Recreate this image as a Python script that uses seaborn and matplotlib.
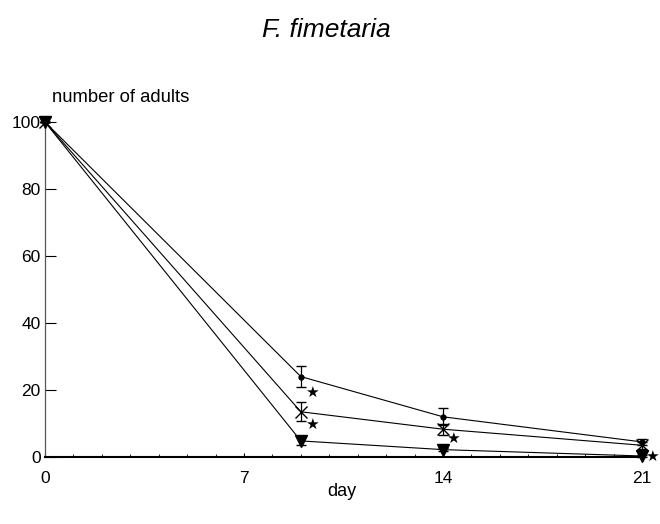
import matplotlib
matplotlib.use("Agg")
import matplotlib.pyplot as plt
import seaborn as sns
import pandas as pd
import numpy as np
from matplotlib.ticker import MultipleLocator

# ---- data ----
days = [0, 9, 14, 21]
series_names = ["dot", "cross", "triangle"]
dot_vals = [100, 24, 12, 4.5]
dot_err = [0, 3.2, 2.5, 0.8]
cross_vals = [100, 13.5, 8.3, 3.5]
cross_err = [0, 2.8, 1.6, 1.0]
tri_vals = [100, 4.8, 2.2, 0.3]
tri_err = [0, 1.2, 0.5, 0.4]
star_days = [9.4, 9.37, 14.35, 21.33]
star_vals = [19.2, 9.6, 5.5, 0.2]
x_ticks = [0, 7, 14, 21]
y_ticks = [0, 20, 40, 60, 80, 100]

sns.set_theme(style="white")
plt.rcParams['font.family'] = ['Liberation Sans', 'DejaVu Sans']
plt.rcParams['text.color'] = 'black'
plt.rcParams['xtick.color'] = 'black'
plt.rcParams['ytick.color'] = 'black'

df = pd.DataFrame({
    "day": days * 3,
    "adults": dot_vals + cross_vals + tri_vals,
    "series": [series_names[0]] * 4 + [series_names[1]] * 4 + [series_names[2]] * 4,
})

fig = plt.figure(figsize=(6.6, 5.24), dpi=100)
ax = fig.add_axes([45 / 660, 1 - 457 / 524, (642 - 45) / 660, (457 - 122) / 524])

sns.lineplot(data=df, x="day", y="adults", hue="series",
             palette=["black"] * 3, linewidth=0.8, legend=False, ax=ax)

marker_cfg = [("o", 3.5, dot_vals, dot_err), ("x", 8, cross_vals, cross_err), ("v", 8.5, tri_vals, tri_err)]
for mk, ms, vals, errs in marker_cfg:
    ax.errorbar(days, vals, yerr=errs, fmt=mk, color="black", ms=ms, mew=1.0,
                elinewidth=0.9, capsize=3.5, capthick=0.9, clip_on=False, zorder=5)

for sx, sy in zip(star_days, star_vals):
    ax.text(sx, sy, "★", fontsize=11, color="black", ha="center", va="center",
            family="DejaVu Sans", clip_on=False)

ax.set_xlim(0, 21)
ax.set_ylim(0, 100)
ax.set_xticks(x_ticks)
ax.set_yticks(y_ticks)
ax.xaxis.set_minor_locator(MultipleLocator(1))
ax.tick_params(axis="y", which="major", direction="in", length=8, width=0.8,
               left=True, labelsize=12.5, pad=3, colors="black")
ax.tick_params(axis="x", which="major", direction="in", length=3, width=0.8,
               bottom=True, labelsize=12.5, pad=10, colors="black")
ax.tick_params(axis="x", which="minor", direction="in", length=2.5, width=0.6, bottom=True)
for s in ["top", "right"]:
    ax.spines[s].set_visible(False)
ax.spines["bottom"].set_linewidth(1.5)
ax.spines["bottom"].set_color("black")
ax.spines["left"].set_linewidth(0.9)
ax.spines["left"].set_color("#555555")
ax.set_xlabel("")
ax.set_ylabel("")

fig.text(326 / 660, 1 - 30 / 524, "F. fimetaria", fontsize=19, style="italic",
         ha="center", va="center")
fig.text(52 / 660, 1 - 98 / 524, "number of adults", fontsize=13.3, ha="left", va="center")
fig.text(342 / 660, 1 - 492 / 524, "day", fontsize=13, ha="center", va="center")

fig.savefig("out.png", dpi=100, facecolor="white")
